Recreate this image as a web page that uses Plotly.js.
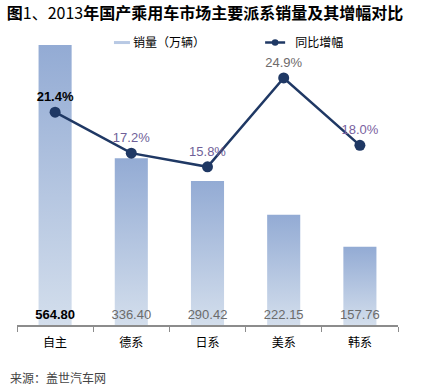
<!DOCTYPE html>
<html>
<head>
<meta charset="utf-8">
<script src="https://cdn.plot.ly/plotly-3.0.1.min.js"></script>
<style>html,body{margin:0;padding:0;background:#fff;}#chart{width:425px;height:390px;}</style>
</head>
<body>
<div id="chart"></div>
<script>
const categories = ['自主', '德系', '日系', '美系', '韩系'];
const sales = [564.80, 336.40, 290.42, 222.15, 157.76];
const growth = [21.4, 17.2, 15.8, 24.9, 18.0];
const salesName = '销量（万辆）';
const growthName = '同比增幅';
const titlePrefix = '图';
const titleNumber = '1、2013';
const titleRest = '年国产乘用车市场主要派系销量及其增幅对比';
const sourceText = '来源：盖世汽车网';

const FONT = '"Liberation Sans", Arial, "Noto Sans CJK SC", sans-serif';
const CJK = '"Noto Sans CJK SC", "Liberation Sans", sans-serif';

const barText = sales.map((v, i) => i === 0 ? '<b>' + v.toFixed(2) + '</b>' : v.toFixed(2));
const barTextColor = sales.map((v, i) => i === 0 ? '#000000' : '#6b6b6b');
const lineText = growth.map((v, i) => i === 0 ? '<b>' + v.toFixed(1) + '%</b>' : v.toFixed(1) + '%');
const lineTextColor = ['#000000', '#6f5f98', '#6f5f98', '#6e6a6a', '#7a62a0'];

const traces = [
  {
    type: 'bar', name: salesName, x: categories, y: sales, legend: 'legend',
    marker: {color: '#a9bedf'},
    text: barText, textposition: 'inside', insidetextanchor: 'start', textangle: 0,
    constraintext: 'none', cliponaxis: false,
    textfont: {family: FONT, size: 13, color: barTextColor},
    hoverinfo: 'skip'
  },
  {
    type: 'scatter', mode: 'lines+markers+text', name: growthName, legend: 'legend2',
    x: categories, y: growth, yaxis: 'y2',
    line: {color: '#1f3864', width: 2.5},
    marker: {color: '#1f3864', size: 11},
    text: lineText, textposition: 'top center', cliponaxis: false,
    textfont: {family: FONT, size: 13, color: lineTextColor},
    hoverinfo: 'skip'
  }
];

const legendBase = {orientation: 'h', xanchor: 'left', y: 0.974, yanchor: 'middle',
  bgcolor: 'rgba(0,0,0,0)', font: {family: CJK, size: 12, color: '#000'}};

const layout = {
  width: 425, height: 390,
  margin: {l: 17, r: 27, t: 35, b: 65, pad: 0},
  paper_bgcolor: '#ffffff', plot_bgcolor: '#ffffff',
  font: {family: CJK, size: 12, color: '#000'},
  title: {text: '<b>' + titlePrefix + '</b>' + titleNumber + '<b>' + titleRest + '</b>',
          x: 0.016, xanchor: 'left', xref: 'container',
          y: 0.965, yanchor: 'middle', yref: 'container',
          font: {family: CJK, size: 16, color: '#000'}},
  bargap: 0.566,
  showlegend: true,
  legend: Object.assign({}, legendBase, {x: 0.223}),
  legend2: Object.assign({}, legendBase, {x: 0.625}),
  xaxis: {
    showline: true, linecolor: '#8c8c8c', linewidth: 1.5,
    ticks: 'outside', tickson: 'boundaries', ticklen: 5, tickcolor: '#8c8c8c',
    showgrid: false, zeroline: false,
    tickfont: {family: CJK, size: 12, color: '#000'},
    ticklabelstandoff: 6, fixedrange: true
  },
  yaxis: {range: [0, 585], visible: false, showgrid: false, zeroline: false, fixedrange: true},
  yaxis2: {range: [-0.4, 29.3], overlaying: 'y', side: 'right', visible: false,
           showgrid: false, zeroline: false, fixedrange: true},
  annotations: [
    {text: sourceText, xref: 'paper', yref: 'paper', x: -0.024, y: -0.18,
     xanchor: 'left', yanchor: 'middle', showarrow: false,
     font: {family: CJK, size: 12, color: '#444'}}
  ]
};

Plotly.newPlot('chart', traces, layout, {displayModeBar: false, staticPlot: true}).then(function (gd) {
  const svg = gd.querySelector('.main-svg');
  let defs = svg.querySelector('defs');
  const ns = 'http://www.w3.org/2000/svg';
  const grad = document.createElementNS(ns, 'linearGradient');
  grad.setAttribute('id', 'barGrad');
  grad.setAttribute('x1', '0'); grad.setAttribute('y1', '0');
  grad.setAttribute('x2', '0'); grad.setAttribute('y2', '1');
  [['0%', '#93abd4'], ['100%', '#d3deec']].forEach(function (s) {
    const st = document.createElementNS(ns, 'stop');
    st.setAttribute('offset', s[0]); st.setAttribute('stop-color', s[1]);
    grad.appendChild(st);
  });
  defs.appendChild(grad);
  gd.querySelectorAll('.barlayer .point path').forEach(function (p) { p.style.fill = 'url(#barGrad)'; });
  // legend swatch styling to mimic the thin gradient bar and short line
  gd.querySelectorAll('.legendpoints path.legendundefined').forEach(function (p) {
    p.setAttribute('d', 'M8,1.5H-8V-1.5H8Z');
    p.style.fill = '#b8c9e4';
    p.style.stroke = 'none';
  });
  gd.querySelectorAll('.legendlines path').forEach(function (p) {
    p.setAttribute('d', 'M10,0h20');
  });
  gd.querySelectorAll('.legendpoints path.scatterpts').forEach(function (p) {
    const t = p.getAttribute('transform') || '';
    p.setAttribute('transform', t + ' scale(0.6)');
  });
  gd.querySelectorAll('.legendtext').forEach(function (t) {
    t.setAttribute('x', '31');
  });
});
</script>
</body>
</html>
